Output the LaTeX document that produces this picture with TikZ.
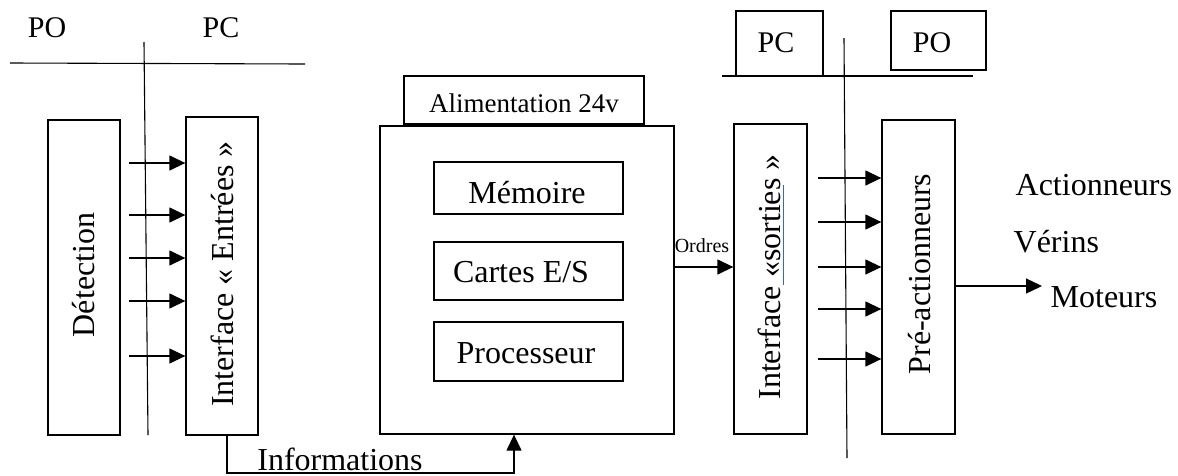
\documentclass[tikz,border=0pt]{standalone}
\usepackage{fontspec}
\setmainfont{Liberation Serif}
\usetikzlibrary{arrows.meta}
\definecolor{linkblue}{RGB}{50,100,220}
\begin{document}
\begin{tikzpicture}[x=1pt,y=-1pt,line width=1.3pt,
  blk/.style={draw, inner sep=0pt},
  lbl/.style={inner sep=0pt, anchor=base, font=\fontsize{32}{36}\selectfont},
  vlbl/.style={inner sep=0pt, rotate=90, font=\fontsize{32}{36}\selectfont},
  head/.style={inner sep=0pt, anchor=base, font=\fontsize{30}{34}\selectfont},
  arr/.style={-{Triangle[length=16pt,width=15pt]}},
  sep/.style={line width=1.1pt}]
\useasboundingbox (0,0) rectangle (1178,475);

% --- left side: operative / command boundary
\node[head] (po1) at (47,37) {PO};
\node[head] (pc1) at (221,37) {PC};
\coordinate (hl1) at (10,63);  \coordinate (hr1) at (305,64);
\coordinate (vt1) at (144,42); \coordinate (vb1) at (148,435);
\draw[sep] (hl1) -- (hr1);
\draw[sep] (vt1) -- (vb1);

\node[blk, minimum width=72pt, minimum height=315pt] (det) at (84,277.5) {};
\node[vlbl] at (84,275) {Détection};
\node[blk, minimum width=72pt, minimum height=318pt] (ent) at (222,276) {};
\node[vlbl] at (222,274) {Interface « Entrées »};

\foreach \y in {163,215,258,301,356}
  \draw[arr] (129,\y) -- (ent.west |- 0,\y);

% --- automate
\node[blk, minimum width=240pt, minimum height=48pt] (alim) at (524,100) {};
\node[inner sep=0pt, anchor=base, font=\fontsize{27}{30}\selectfont] at (524,112) {Alimentation 24v};
\node[blk, minimum width=294pt, minimum height=308pt] (cpu) at (527,280) {};
\node[blk, minimum width=189pt, minimum height=52pt] (mem) at (528.5,188) {};
\node[lbl] at (527,203) {Mémoire};
\node[blk, minimum width=189pt, minimum height=58pt] (es) at (528.5,271) {};
\node[lbl] at (521,282) {Cartes E/S};
\node[blk, minimum width=189pt, minimum height=59pt] (proc) at (528.5,351.5) {};
\node[lbl] at (526,363) {Processeur};

% Informations loop back into the automate
\coordinate (inf) at (514,473);
\draw[arr] ([xshift=5pt]ent.south) |- (inf) -- (inf |- cpu.south);
\node[lbl] at (340,470) {Informations};

% --- right side
\node[blk, minimum width=73pt, minimum height=310pt] (sor) at (770.5,279) {};
\node[vlbl] (sortxt) at (769,277) {Interface «sorties »};
\draw[linkblue, line width=0.8pt] (783,185) -- (783,285);
\draw[arr] (cpu.east |- 0,267) -- (sor.west |- 0,267);
\node[inner sep=0pt, anchor=base, font=\fontsize{20}{22}\selectfont] at (702,252) {Ordres};

\node[blk, minimum width=87pt, minimum height=65pt] (pc2) at (779.5,43.5) {};
\node[head] at (776,52) {PC};
\node[blk, minimum width=95pt, minimum height=59pt] (po2) at (938.5,40.5) {};
\node[head] at (932,52) {PO};
\coordinate (hl2) at (722,76); \coordinate (hr2) at (973,76);
\coordinate (vt2) at (844,38); \coordinate (vb2) at (847,458);
\draw[sep] (hl2) -- (hr2);
\draw[sep] (vt2) -- (vb2);

\node[blk, minimum width=73pt, minimum height=314pt] (pre) at (918.5,277) {};
\node[vlbl] at (920,274) {Pré-actionneurs};

\foreach \y in {178,222,267,309,359}
  \draw[arr] (818,\y) -- (pre.west |- 0,\y);

\coordinate (out) at (1042,286);
\draw[arr] (pre.east |- out) -- (out);
\node[lbl, anchor=base west] at (1015,195) {Actionneurs};
\node[lbl, anchor=base west] at (1013,252) {Vérins};
\node[lbl, anchor=base west] at (1050,307) {Moteurs};
\end{tikzpicture}
\end{document}
